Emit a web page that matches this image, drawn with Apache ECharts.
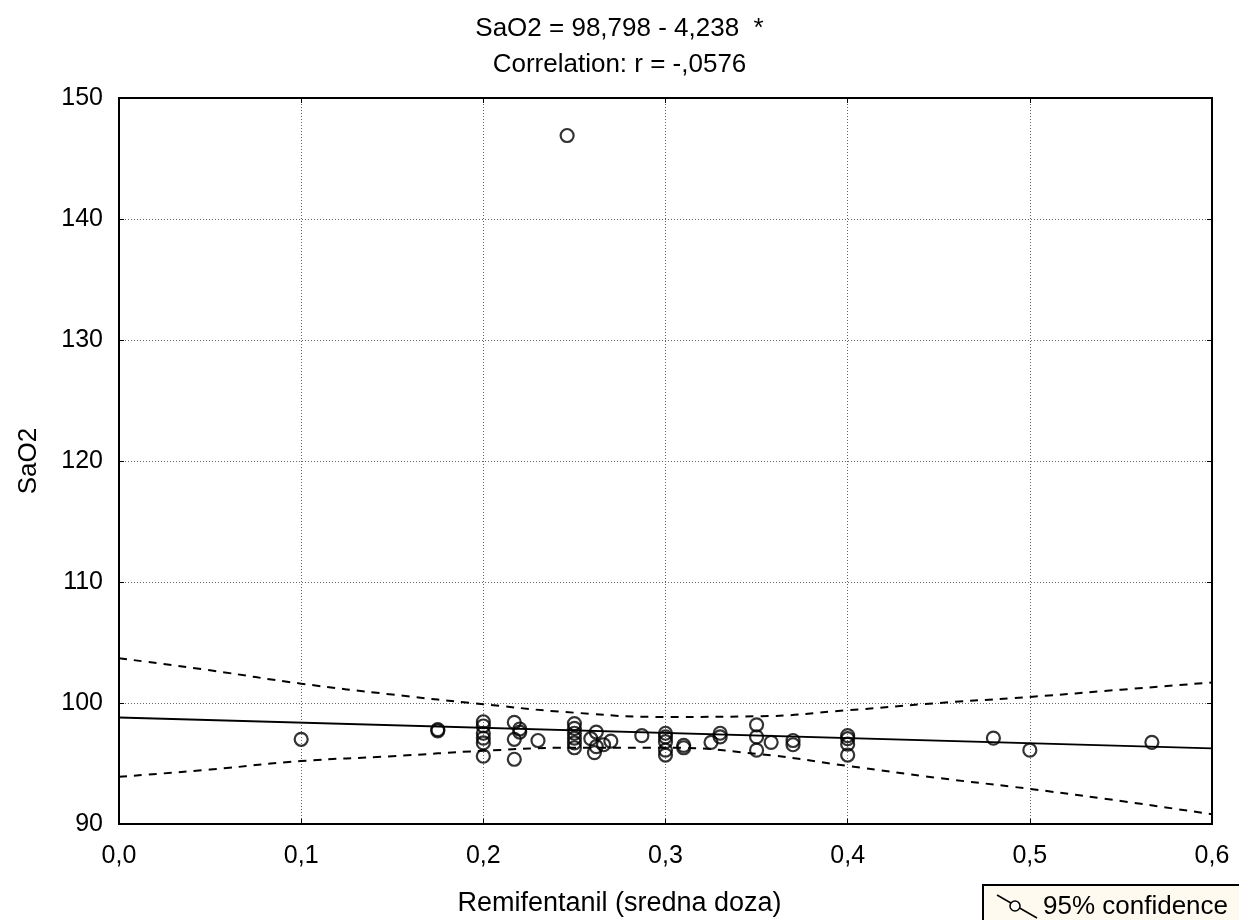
<!DOCTYPE html>
<html>
<head>
<meta charset="utf-8">
<script src="https://cdn.jsdelivr.net/npm/echarts@6/dist/echarts.min.js"></script>
<style>
html,body{margin:0;padding:0;background:#fff;}
#c{width:1239px;height:920px;}
</style>
</head>
<body>
<div id="c"></div>
<script>
// Scatter data: Remifentanil (sredna doza) vs SaO2
const doseX = [0.1, 0.175, 0.175,
  0.2, 0.2, 0.2, 0.2, 0.2, 0.2,
  0.217, 0.22, 0.22, 0.217, 0.217, 0.23,
  0.25, 0.25, 0.25, 0.25, 0.25, 0.25,
  0.262, 0.259, 0.262, 0.261, 0.266, 0.27, 0.246, 0.287,
  0.3, 0.3, 0.3, 0.3, 0.3, 0.31, 0.31, 0.325, 0.33, 0.33,
  0.35, 0.35, 0.35, 0.358, 0.37, 0.37,
  0.4, 0.4, 0.4, 0.4, 0.48, 0.5, 0.567];
const sao2Y = [97.0, 97.8, 97.7,
  98.45, 98.1, 97.5, 97.1, 96.7, 95.6,
  98.4, 97.85, 97.6, 97.0, 95.35, 96.9,
  98.3, 97.9, 97.5, 97.1, 96.7, 96.3,
  97.6, 97.05, 96.4, 95.9, 96.55, 96.85, 146.9, 97.3,
  97.5, 97.2, 96.8, 96.1, 95.7, 96.5, 96.3, 96.75, 97.5, 97.2,
  98.2, 97.2, 96.1, 96.75, 96.9, 96.55,
  97.3, 97.05, 96.6, 95.7, 97.1, 96.1, 96.75];
// Regression line endpoints
const fitX = [0, 0.6];
const fitY = [98.8, 96.25];
// 95% confidence band
const bandX = [0, 0.05, 0.1, 0.15, 0.2, 0.25, 0.3, 0.35, 0.4, 0.45, 0.5, 0.55, 0.6];
const bandUpper = [103.7, 102.7, 101.6, 100.7, 99.9, 99.2, 98.85, 98.9, 99.4, 100.0, 100.5, 101.1, 101.7];
const bandLower = [93.9, 94.5, 95.2, 95.6, 96.05, 96.3, 96.3, 95.8, 94.8, 93.8, 92.9, 91.9, 90.8];
// Axis ticks
const xTicks = {min: 0, max: 0.6, step: 0.1};
const yTicks = {min: 90, max: 150, step: 10};
const titleLines = ['SaO2 = 98,798 - 4,238  *', 'Correlation: r = -,0576'];
const xName = 'Remifentanil (sredna doza)';
const yName = 'SaO2';
const legendText = '95% confidence';

const zip = (a, b) => a.map((v, i) => [v, b[i]]);
const FONT = '"Liberation Sans", Arial, sans-serif';
const fmt = v => v.toFixed(1).replace('.', ',');

const chart = echarts.init(document.getElementById('c'), null, {renderer: 'canvas'});
const axisCommon = {
  axisLine: {show: true, onZero: false, lineStyle: {color: '#000', width: 2}},
  axisTick: {show: true, inside: true, length: 5, lineStyle: {color: '#000', width: 1}},
};
chart.setOption({
  animation: false,
  backgroundColor: '#fff',
  title: {
    text: titleLines.join('\n'),
    left: 'center', top: 6,
    textStyle: {fontFamily: FONT, fontSize: 26, fontWeight: 'normal', color: '#000', lineHeight: 36}
  },
  grid: {left: 119, right: 27, top: 98, bottom: 96, show: true, borderColor: '#000', borderWidth: 2, backgroundColor: '#fff'},
  xAxis: [{
    type: 'value', min: xTicks.min, max: xTicks.max, interval: xTicks.step, position: 'bottom',
    ...axisCommon,
    axisLabel: {formatter: fmt, fontFamily: FONT, fontSize: 25, color: '#000', margin: 20},
    splitLine: {show: true, lineStyle: {color: '#666', type: [1, 2], width: 1}}
  }, {
    type: 'value', min: xTicks.min, max: xTicks.max, interval: xTicks.step, position: 'top',
    ...axisCommon, axisLabel: {show: false}, splitLine: {show: false}
  }],
  yAxis: [{
    type: 'value', min: yTicks.min, max: yTicks.max, interval: yTicks.step, position: 'left',
    ...axisCommon,
    axisLabel: {fontFamily: FONT, fontSize: 25, color: '#000', margin: 16},
    splitLine: {show: true, lineStyle: {color: '#666', type: [1, 2], width: 1}}
  }, {
    type: 'value', min: yTicks.min, max: yTicks.max, interval: yTicks.step, position: 'right',
    ...axisCommon, axisLabel: {show: false}, splitLine: {show: false}
  }],
  series: [
    {type: 'line', data: zip(bandX, bandUpper), smooth: true, showSymbol: false, symbol: 'none',
     lineStyle: {color: '#000', width: 2, type: [8, 7]}, z: 2},
    {type: 'line', data: zip(bandX, bandLower), smooth: true, showSymbol: false, symbol: 'none',
     lineStyle: {color: '#000', width: 2, type: [8, 7]}, z: 2},
    {type: 'line', data: zip(fitX, fitY), showSymbol: false, symbol: 'none',
     lineStyle: {color: '#000', width: 2}, z: 3},
    {type: 'scatter', data: zip(doseX, sao2Y), symbol: 'circle', symbolSize: 13,
     itemStyle: {color: 'rgba(255,255,255,0)', borderColor: '#000', borderWidth: 2.2}, z: 4}
  ],
  graphic: [
    {type: 'text', left: 'center', top: 890, style: {text: xName, font: '27px ' + FONT, fill: '#000'}},
    {type: 'text', x: 16, y: 461, rotation: Math.PI / 2,
     style: {text: yName, font: '26px ' + FONT, fill: '#000', align: 'center', verticalAlign: 'top'}},
    {type: 'rect', shape: {x: 983, y: 885, width: 270, height: 50},
     style: {fill: '#fffaf0', stroke: '#000', lineWidth: 2}},
    {type: 'line', shape: {x1: 997, y1: 895, x2: 1037, y2: 918}, style: {stroke: '#000', lineWidth: 1.5}},
    {type: 'circle', shape: {cx: 1015, cy: 906, r: 5}, style: {fill: '#fff', stroke: '#000', lineWidth: 1.5}},
    {type: 'text', x: 1043, y: 907, style: {text: legendText, font: '26px ' + FONT, fill: '#000', verticalAlign: 'middle'}}
  ]
});
</script>
</body>
</html>
